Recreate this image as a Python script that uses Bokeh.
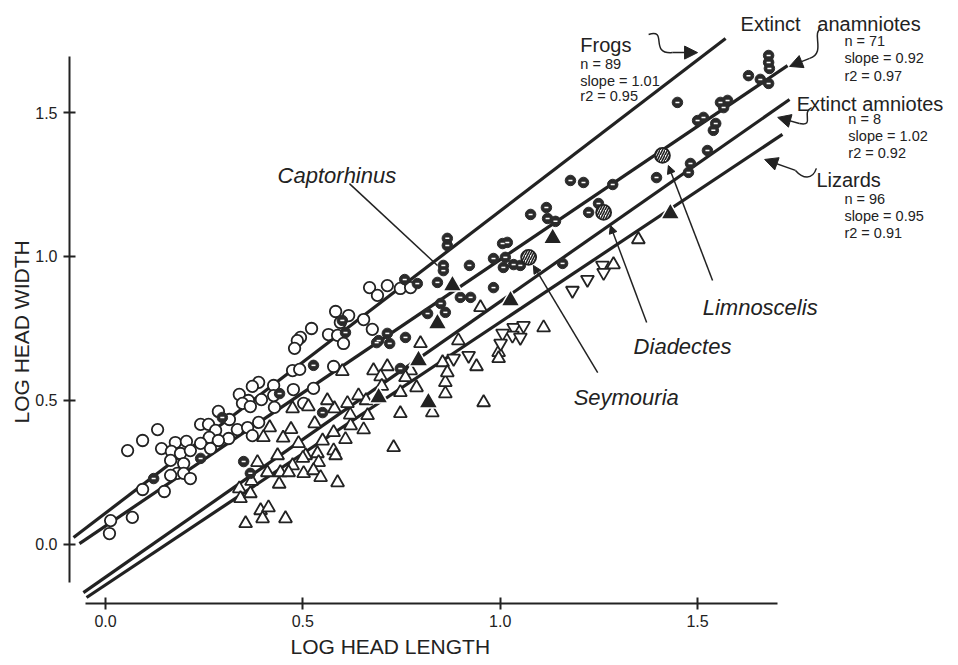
from math import pi
from bokeh.plotting import figure
from bokeh.models import Range1d, FixedTicker, PrintfTickFormatter, Label, Arrow, NormalHead, Title
from bokeh.embed import file_html
from bokeh.resources import INLINE

# ---------------- data (log head length, log head width) ----------------
tick_vals = [0.0, 0.5, 1.0, 1.5]

# Frogs (open circles)
frog_x = [0.669, 0.714, 0.689, 0.747, 0.773, 0.583, 0.616, 0.654, 0.595, 0.676,
          0.522, 0.565, 0.588, 0.603, 0.494, 0.486, 0.479, 0.474, 0.492, 0.578,
          0.527, 0.476, 0.502, 0.426, 0.388, 0.372, 0.426, 0.395, 0.428, 0.339,
          0.362, 0.347, 0.367, 0.286, 0.314, 0.241, 0.261, 0.279, 0.312, 0.334,
          0.360, 0.388, 0.372, 0.263, 0.286, 0.132, 0.094, 0.056, 0.142, 0.177,
          0.205, 0.241, 0.167, 0.190, 0.215, 0.165, 0.198, 0.266, 0.182, 0.198,
          0.215, 0.165, 0.094, 0.149, 0.068, 0.013, 0.010]
frog_y = [0.892, 0.899, 0.865, 0.889, 0.892, 0.809, 0.795, 0.781, 0.771, 0.747,
          0.750, 0.729, 0.726, 0.698, 0.719, 0.708, 0.681, 0.604, 0.608, 0.618,
          0.542, 0.538, 0.490, 0.552, 0.563, 0.549, 0.517, 0.503, 0.476, 0.521,
          0.500, 0.490, 0.479, 0.462, 0.434, 0.417, 0.417, 0.396, 0.368, 0.399,
          0.406, 0.424, 0.378, 0.372, 0.361, 0.399, 0.361, 0.326, 0.333, 0.354,
          0.358, 0.351, 0.323, 0.316, 0.326, 0.292, 0.281, 0.333, 0.247, 0.247,
          0.229, 0.240, 0.191, 0.184, 0.094, 0.083, 0.038]

# Extinct anamniotes (dark circles)
anam_x = [0.122, 0.241, 0.296, 0.350, 0.367, 0.441, 0.527, 0.550, 0.600, 0.608,
          0.687, 0.714, 0.720, 0.692, 0.747, 0.760, 0.816, 0.861, 0.849, 0.899,
          0.925, 0.758, 0.790, 0.841, 0.856, 0.856, 0.922, 0.866, 0.866, 0.983,
          1.006, 1.018, 0.983, 1.013, 1.008, 1.034, 1.051, 1.158, 1.077, 1.117,
          1.120, 1.140, 1.178, 1.211, 1.285, 1.224, 1.249, 1.396, 1.477, 1.482,
          1.525, 1.500, 1.515, 1.546, 1.540, 1.449, 1.558, 1.576, 1.566, 1.629,
          1.659, 1.680, 1.680, 1.680, 1.682]
anam_y = [0.229, 0.299, 0.441, 0.288, 0.247, 0.524, 0.622, 0.458, 0.778, 0.736,
          0.701, 0.733, 0.698, 0.708, 0.611, 0.719, 0.802, 0.806, 0.837, 0.858,
          0.858, 0.920, 0.906, 0.910, 0.969, 0.951, 0.969, 1.063, 1.038, 0.892,
          1.045, 1.049, 0.993, 0.997, 0.962, 0.972, 0.969, 0.976, 1.146, 1.170,
          1.132, 1.122, 1.264, 1.257, 1.250, 1.153, 1.184, 1.274, 1.292, 1.323,
          1.368, 1.472, 1.483, 1.462, 1.438, 1.535, 1.535, 1.542, 1.517, 1.628,
          1.615, 1.601, 1.698, 1.674, 1.653]

# Extinct amniotes (filled triangles)
amn_x = [1.431, 1.133, 0.879, 1.026, 0.841, 0.793, 0.818, 0.692]
amn_y = [1.149, 1.063, 0.899, 0.847, 0.767, 0.639, 0.493, 0.510]

# Named extinct taxa (hatched circles)
special_names = ["Seymouria", "Diadectes", "Limnoscelis"]
special_x = [1.072, 1.262, 1.411]
special_y = [0.997, 1.153, 1.351]

# Lizards (open triangles)
liz_x = [1.350, 1.287, 1.110, 0.996, 0.996, 0.950, 0.894, 0.854, 0.940, 0.861,
         0.861, 0.866, 0.798, 0.788, 0.747, 0.773, 0.958, 0.828, 0.747, 0.714,
         0.679, 0.697, 0.600, 0.641, 0.613, 0.580, 0.562, 0.514, 0.474, 0.664,
         0.621, 0.654, 0.578, 0.608, 0.730, 0.416, 0.400, 0.489, 0.436, 0.507,
         0.537, 0.578, 0.583, 0.540, 0.385, 0.474, 0.443, 0.464, 0.502, 0.527,
         0.545, 0.588, 0.339, 0.342, 0.367, 0.393, 0.413, 0.398, 0.355, 0.456,
         0.440, 0.500, 0.620, 0.700, 0.760, 0.530, 0.470, 0.450, 0.550, 0.660,
         0.370, 0.410]
liz_y = [1.059, 0.972, 0.753, 0.667, 0.646, 0.823, 0.708, 0.632, 0.618, 0.563,
         0.524, 0.597, 0.698, 0.545, 0.528, 0.604, 0.493, 0.458, 0.455, 0.618,
         0.604, 0.583, 0.601, 0.517, 0.490, 0.472, 0.500, 0.479, 0.472, 0.448,
         0.413, 0.399, 0.389, 0.365, 0.337, 0.406, 0.372, 0.351, 0.309, 0.309,
         0.316, 0.326, 0.309, 0.285, 0.285, 0.274, 0.250, 0.250, 0.247, 0.257,
         0.233, 0.215, 0.194, 0.160, 0.177, 0.118, 0.128, 0.090, 0.073, 0.090,
         0.210, 0.300, 0.450, 0.550, 0.580, 0.420, 0.400, 0.370, 0.360, 0.500,
         0.220, 0.250]

# Lizards, second symbol (inverted open triangles)
liz2_x = [1.183, 1.221, 1.259, 1.262, 1.034, 1.059, 1.031, 1.051, 1.006, 1.001, 0.920, 0.882]
liz2_y = [0.882, 0.920, 0.969, 0.944, 0.753, 0.760, 0.726, 0.719, 0.733, 0.698, 0.656, 0.646]

# Fitted regression lines (end points)
line_names = ["Frogs", "Extinct anamniotes", "Extinct amniotes", "Lizards"]
line_x0 = [-0.081, -0.066, -0.056, -0.048]
line_y0 = [0.024, 0.003, -0.167, -0.184]
line_x1 = [1.571, 1.728, 1.733, 1.715]
line_y1 = [1.757, 1.663, 1.545, 1.424]

INK = "#222222"
FONT = "Liberation Sans"

p = figure(width=956, height=663,
           x_range=Range1d(-0.0912, 2.1560), y_range=Range1d(-0.2049, 1.8889),
           output_backend="svg", toolbar_location=None,
           min_border_left=69, min_border_right=0, min_border_top=0, min_border_bottom=60)
p.outline_line_color = None
p.grid.visible = False
p.background_fill_color = "white"
p.border_fill_color = "white"

for ax in (p.xaxis[0], p.yaxis[0]):
    ax.ticker = FixedTicker(ticks=tick_vals)
    ax.formatter = PrintfTickFormatter(format="%.1f")
    ax.axis_line_width = 2
    ax.axis_line_color = INK
    ax.major_tick_line_width = 2
    ax.major_tick_line_color = INK
    ax.major_tick_in = 6
    ax.major_tick_out = 6
    ax.minor_tick_line_color = None
    ax.major_label_text_font = FONT
    ax.major_label_text_font_size = "16px"
    ax.major_label_text_color = INK
p.xaxis[0].bounds = (-0.051, 1.702)
p.yaxis[0].bounds = (-0.132, 1.694)
p.xaxis[0].major_label_standoff = 5
p.yaxis[0].major_label_standoff = 6

# axis titles
p.add_layout(Title(text="LOG HEAD LENGTH", align="left", offset=221, text_font=FONT,
                   text_font_size="21px", text_font_style="normal", text_color=INK, standoff=6), "below")
p.add_layout(Title(text="LOG HEAD WIDTH", align="left", offset=180, text_font=FONT,
                   text_font_size="21px", text_font_style="normal", text_color=INK, standoff=0), "left")

# regression lines
p.segment(x0=line_x0, y0=line_y0, x1=line_x1, y1=line_y1, line_width=3.2, line_color=INK)

# points
p.scatter(frog_x, frog_y, marker="circle", size=11.5, fill_color="white", line_color=INK, line_width=1.8)
p.scatter(liz_x, liz_y, marker="triangle", size=13, fill_color="white", line_color=INK, line_width=1.8)
p.scatter(liz2_x, liz2_y, marker="inverted_triangle", size=13, fill_color="white", line_color=INK, line_width=1.8)
p.scatter(anam_x, anam_y, marker="circle", size=10.5, fill_color="#2b2b2b", line_color="#2b2b2b", line_width=1)
p.scatter(anam_x, anam_y, marker="dash", size=4, line_color="white", line_width=1.5)
p.scatter(special_x, special_y, marker="circle", size=15, fill_color="white", line_color=INK, line_width=1.8,
          hatch_pattern="/", hatch_color=INK, hatch_scale=5, hatch_weight=1.6)
p.scatter(amn_x, amn_y, marker="triangle", size=19, fill_color=INK, line_color="white", line_width=1.5)

# squiggly arrows to the group labels
p.bezier(x0=[1.376, 1.814, 1.789, 1.801], y0=[1.771, 1.792, 1.517, 1.306],
         x1=[1.437, 1.784, 1.758, 1.748], y1=[1.708, 1.688, 1.462, 1.299],
         cx0=[1.426, 1.786, 1.761, 1.791], cy0=[1.792, 1.778, 1.500, 1.264],
         cx1=[1.376, 1.827, 1.799, 1.766], cy1=[1.701, 1.708, 1.451, 1.271],
         line_width=1.5, line_color=INK)
for xs, ys, xe, ye in [(1.437, 1.708, 1.500, 1.708), (1.784, 1.688, 1.733, 1.660),
                       (1.758, 1.462, 1.703, 1.483), (1.748, 1.299, 1.670, 1.337)]:
    p.add_layout(Arrow(end=NormalHead(size=13, fill_color=INK, line_color=INK, line_width=1),
                       x_start=xs, y_start=ys, x_end=xe, y_end=ye, line_width=1.5, line_color=INK))

# leader lines to named taxa
p.segment(x0=[0.618], y0=[1.253], x1=[0.841], y1=[0.969], line_width=1.5, line_color=INK)
for xs, ys, xe, ye in [(1.247, 0.597, 1.084, 0.969), (1.371, 0.771, 1.279, 1.108),
                       (1.538, 0.917, 1.426, 1.316)]:
    p.add_layout(Arrow(end=NormalHead(size=8, fill_color=INK, line_color=INK, line_width=1),
                       x_start=xs, y_start=ys, x_end=xe, y_end=ye, line_width=1.5, line_color=INK))


def lab(x, y, text, size, style="normal"):
    p.add_layout(Label(x=x, y=y, text=text, text_font=FONT, text_font_size=size,
                       text_font_style=style, text_color=INK, text_align="left",
                       text_baseline="alphabetic"))


# taxon names
lab(0.436, 1.281, "Captorhinus", "22px", "italic")
lab(1.186, 0.510, special_names[0], "22px", "italic")
lab(1.338, 0.688, special_names[1], "22px", "italic")
lab(1.513, 0.823, special_names[2], "22px", "italic")

# group labels and statistics
lab(1.203, 1.733, "Frogs", "20px")
lab(1.203, 1.670, "n = 89", "14.5px")
lab(1.203, 1.611, "slope = 1.01", "14.5px")
lab(1.203, 1.556, "r2 = 0.95", "14.5px")

lab(1.609, 1.809, "Extinct\u00a0\u00a0\u00a0anamniotes", "20px")
lab(1.872, 1.750, "n = 71", "14.5px")
lab(1.872, 1.688, "slope = 0.92", "14.5px")
lab(1.872, 1.628, "r2 = 0.97", "14.5px")

lab(1.751, 1.528, "Extinct amniotes", "20px")
lab(1.882, 1.476, "n = 8", "14.5px")
lab(1.882, 1.420, "slope = 1.02", "14.5px")
lab(1.882, 1.361, "r2 = 0.92", "14.5px")

lab(1.801, 1.267, "Lizards", "20px")
lab(1.872, 1.201, "n = 96", "14.5px")
lab(1.872, 1.142, "slope = 0.95", "14.5px")
lab(1.872, 1.083, "r2 = 0.91", "14.5px")

open("out.html", "w").write(file_html(p, INLINE))
